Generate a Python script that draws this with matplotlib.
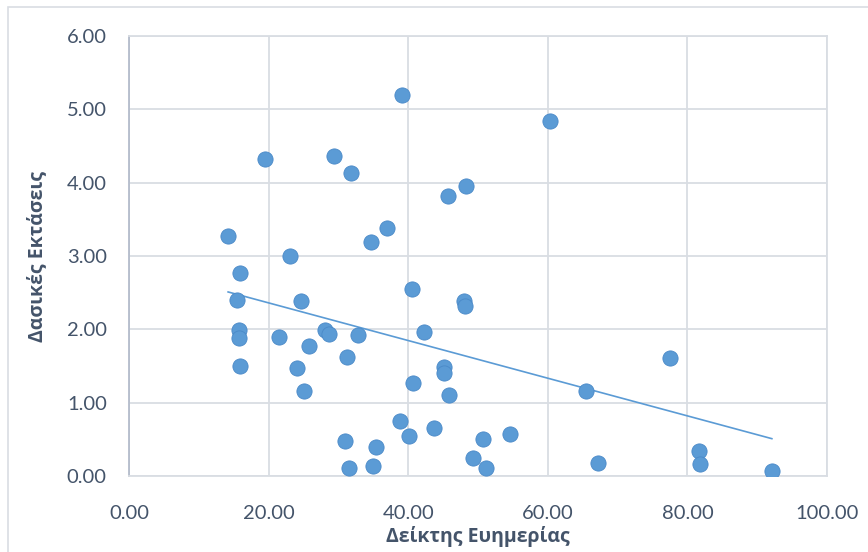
import matplotlib.pyplot as plt
import numpy as np
from matplotlib.patches import Rectangle

# Δείκτης Ευημερίας (x) και Δασικές Εκτάσεις (y)
deiktis = [14.2, 19.5, 29.4, 31.8, 39.1, 60.3, 48.3, 45.7, 37.0, 34.7,
           23.1, 15.9, 15.5, 24.6, 40.5, 48.0, 48.1, 15.7, 15.7, 21.5,
           28.1, 28.7, 32.8, 25.8, 42.3, 31.2, 15.9, 24.1, 25.1, 45.2,
           45.1, 40.7, 45.8, 65.5, 77.5, 38.8, 43.7, 40.1, 30.9, 35.4,
           54.6, 50.7, 49.3, 51.2, 31.5, 34.9, 67.2, 81.7, 81.8, 92.1]
dasikes = [3.27, 4.32, 4.37, 4.13, 5.20, 4.84, 3.96, 3.82, 3.38, 3.19,
           3.00, 2.77, 2.40, 2.39, 2.55, 2.39, 2.32, 1.99, 1.88, 1.90,
           1.99, 1.94, 1.92, 1.77, 1.96, 1.62, 1.50, 1.47, 1.16, 1.49,
           1.41, 1.27, 1.10, 1.16, 1.61, 0.75, 0.66, 0.55, 0.48, 0.40,
           0.57, 0.50, 0.25, 0.11, 0.11, 0.14, 0.18, 0.34, 0.16, 0.07]

x_ticks = [0, 20, 40, 60, 80, 100]
y_ticks = [0, 1, 2, 3, 4, 5, 6]

plt.rcParams['font.family'] = ['Lato', 'DejaVu Sans']
text_color = '#44546a'
grid_color = '#d9dde3'

fig = plt.figure(figsize=(8.68, 5.52), dpi=100)
fig.patches.append(Rectangle((8 / 868, -0.1), 2, 1.1 - 7 / 552, transform=fig.transFigure,
                             fill=False, edgecolor=grid_color, linewidth=1.2))
ax = fig.add_axes([129 / 868, 1 - 476 / 552, 698 / 868, 440 / 552])

ax.scatter(deiktis, dasikes, s=120, color='#5b9bd5', edgecolors='#4a89c8',
           linewidths=0.6, zorder=3)

# γραμμή τάσης (γραμμική)
a, b = np.polyfit(deiktis, dasikes, 1)
xs = np.array([min(deiktis), max(deiktis)])
ax.plot(xs, a * xs + b, color='#5b9bd5', linewidth=1.2, zorder=2)

ax.set_xlim(0, 100)
ax.set_ylim(0, 6)
ax.set_xticks(x_ticks)
ax.set_yticks(y_ticks)
ax.set_xticklabels(['%.2f' % v for v in x_ticks])
ax.set_yticklabels(['%.2f' % v for v in y_ticks])
ax.tick_params(length=0, labelsize=14.5, colors=text_color)
ax.tick_params(axis='x', pad=21)
ax.tick_params(axis='y', pad=16)
ax.grid(True, color=grid_color, linewidth=1.3)
ax.set_axisbelow(True)
for s in ['top', 'right', 'bottom']:
    ax.spines[s].set_color(grid_color)
    ax.spines[s].set_linewidth(1.3)
ax.spines['left'].set_color('#b4bccb')
ax.spines['left'].set_linewidth(1.3)

lab_font = dict(fontsize=14, fontweight='bold', color=text_color,
                family=['Open Sans', 'DejaVu Sans'])
ax.set_xlabel('Δείκτης Ευημερίας', labelpad=3, **lab_font)
ax.set_ylabel('Δασικές Εκτάσεις', labelpad=14, **lab_font)

fig.savefig('out.png', dpi=100)
